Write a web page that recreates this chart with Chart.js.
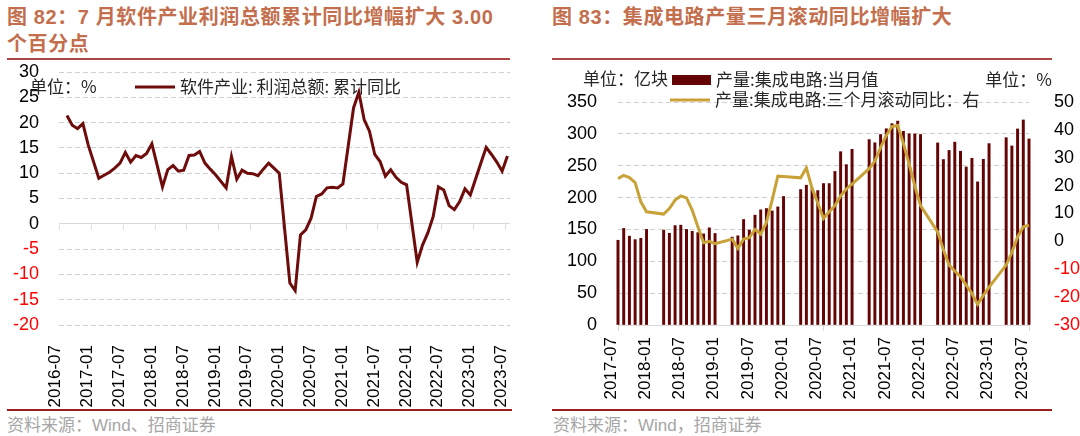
<!DOCTYPE html>
<html lang="zh-CN">
<head>
<meta charset="utf-8">
<title>软件产业利润 / 集成电路产量</title>
<script src="https://cdn.jsdelivr.net/npm/chart.js@4.4.1/dist/chart.umd.min.js"></script>
<style>
  html, body { margin: 0; padding: 0; background: #fff; }
  #page { position: relative; width: 1080px; height: 436px; overflow: hidden;
          font-family: "Liberation Sans", "Noto Sans CJK SC", sans-serif; }
  .title { position: absolute; top: 4px; font-weight: bold; font-size: 20px; line-height: 27px;
           color: #c36f4e; letter-spacing: 0.6px; white-space: nowrap; }
  .rule { position: absolute; height: 2px; }
  .rule.top { top: 58px; background: #ab4744; }
  .rule.bottom { top: 409px; background: #981d1d; }
  .source { position: absolute; top: 415px; font-size: 17px; line-height: 22px; color: #a6a6a6; white-space: nowrap; }
  canvas { position: absolute; top: 62px; }
</style>
</head>
<body>
<div id="page">
  <div class="title" style="left:7px">图 82：7 月软件产业利润总额累计同比增幅扩大 3.00<br>个百分点</div>
  <div class="title" style="left:552px">图 83：集成电路产量三月滚动同比增幅扩大</div>
  <div class="rule top" style="left:7px; width:503px"></div>
  <div class="rule top" style="left:552px; width:500px"></div>
  <canvas id="left" width="540" height="346" style="left:0"></canvas>
  <canvas id="right" width="540" height="346" style="left:540px"></canvas>
  <div class="rule bottom" style="left:7px; width:505px"></div>
  <div class="rule bottom" style="left:552px; width:500px"></div>
  <div class="source" style="left:7px">资料来源：Wind、招商证券</div>
  <div class="source" style="left:553px">资料来源：Wind，招商证券</div>
</div>
<script>
// month labels, YYYY-MM
function monthRange(from, to) {
    const out = [];
    let [y, m] = from.split('-').map(Number);
    const [ty, tm] = to.split('-').map(Number);
    while (y < ty || (y === ty && m <= tm)) {
        out.push(y + '-' + String(m).padStart(2, '0'));
        m++;
        if (m > 12) { m = 1; y++; }
    }
    return out;
}

// left: 软件产业 利润总额 累计同比 (%), Jan has no figure
const profitMonths = monthRange('2016-07', '2023-07');
const profitYoY = [
    null, 21.4, 19.5, 18.8, 19.8, 15.6,
    null, 9.0, 9.6, 10.2, 11.0, 12.0, 14.1, 12.2, 13.5, 13.1, 13.9, 15.8,
    null, 7.3, 10.7, 11.5, 10.4, 10.6, 13.5, 13.6, 14.3, 12.0, 10.8, 9.7,
    null, 7.1, 13.3, 8.8, 10.6, 10.0, 9.9, 9.5, 10.8, 12.0, 11.0, 10.0,
    null, -11.7, -13.2, -2.2, -1.2, 1.1, 5.4, 5.9, 7.1, 7.2, 7.1, 7.9,
    null, 22.9, 26.0, 20.6, 18.3, 13.7, 12.3, 9.4, 10.7, 9.2, 8.2, 7.7,
    null, -7.6, -4.2, -1.8, 1.4, 7.3, 6.7, 3.6, 2.8, 4.4, 6.9, 5.7,
    null, 12.0, 15.1, 13.7, 12.2, 10.4, 13.4
];
const profitTicks = [-20, 30, 5];   // min, max, step

// right: 集成电路产量 当月值 (亿块) and 三个月滚动同比 (%), Jan/Feb have no figure
const icMonths = monthRange('2017-07', '2023-07');
const icOutput = [
    133, 151.5, 139.5, 134, 136, 150,
    null, null, 149, 144, 156, 156.7, 150, 147, 145, 143, 152.5, 143.7,
    null, null, 138, 140, 165.6, 149, 172.4, 180.8, 182.8, 179, 185.4, 201.7,
    null, null, 212.6, 219.4, 214, 211, 222, 222, 241, 272, 251.7, 275.8,
    null, null, 291, 286, 299, 308, 316, 320, 304, 300, 300, 299,
    null, null, 285.8, 259.7, 274, 287, 272.7, 248, 261.7, 224.6, 260, 284.7,
    null, null, 294, 281, 307.7, 321.8, 292
];
const icRollingYoY = [
    22.5, 23.7, 22.9, 21.1, 14.2, 10.6,
    null, null, 9.8, 11.8, 14.8, 16.3, 15.6, 11.2, 5.2, -0.5, 0.0, -0.8,
    null, null, 0.8, -2.5, 0.8, 1.3, 4.3, 2.6, 6.8, 14.8, 23.4, 23.3,
    null, null, 22.8, 26.4, 19.0, 13.8, 8.2, 10.6, 12.8, 16.3, 18.8, 20.5,
    null, null, 26.1, 28.8, 33.6, 38.0, 41.2, 41.6, 35.1, 27.8, 19.8, 12.8,
    null, null, 3.4, -3.0, -8.5, -10.6, -12.7, -15.7, -18.7, -22.6, -19.4, -16.4,
    null, null, -8.5, -4.0, 1.6, 5.2, 5.8
];
const icLeftTicks = [0, 350, 50];
const icRightTicks = [-30, 50, 10];

const NUM_FONT = 'Liberation Sans';
const CJK_FONT = '"Noto Sans CJK SC", "Liberation Sans"';
const GRID = '#d0d0d0';
const AXIS = '#d9d9d9';
const negRed = ctx => ctx.tick.value < 0 ? '#ff0000' : '#000000';
const halfYear = (labels) => (v, i) => i % 6 === 0 ? labels[i] : null;

// legend drawn inside the plot, like the original
function panelLegend(items) {
    return {
        id: 'panelLegend',
        afterDraw(chart) {
            const c = chart.ctx;
            c.save();
            c.font = '17px ' + CJK_FONT;
            c.textBaseline = 'middle';
            items.forEach(it => {
                c.fillStyle = '#262626';
                c.textAlign = it.align || 'left';
                if (it.dataset === undefined) {
                    c.fillText(it.text, it.x, it.y);
                    return;
                }
                const ds = chart.data.datasets[it.dataset];
                if (it.swatch === 'bar') {
                    c.fillStyle = ds.backgroundColor;
                    c.fillRect(it.x, it.y - 5, it.w, 10);
                } else {
                    c.strokeStyle = ds.borderColor;
                    c.lineWidth = 3;
                    c.beginPath();
                    c.moveTo(it.x, it.y);
                    c.lineTo(it.x + it.w, it.y);
                    c.stroke();
                }
                c.fillStyle = '#262626';
                c.fillText(ds.label, it.x + it.w + 5, it.y);
            });
            c.restore();
        }
    };
}

// small tick marks hanging under the zero line of the left chart
const zeroTicks = {
    id: 'zeroTicks',
    beforeDatasetsDraw(chart) {
        const x = chart.scales.x, y = chart.scales.y;
        const y0 = Math.round(y.getPixelForValue(0)) + 0.5;
        const half = (x.getPixelForValue(1) - x.getPixelForValue(0)) / 2;
        const c = chart.ctx;
        c.save();
        c.strokeStyle = AXIS;
        c.lineWidth = 1;
        c.beginPath();
        profitMonths.forEach((m, i) => {
            if (i % 6) return;
            const px = Math.round(x.getPixelForValue(i) - half) + 0.5;
            c.moveTo(px, y0);
            c.lineTo(px, y0 + 5);
        });
        c.stroke();
        c.restore();
    }
};

new Chart(document.getElementById('left'), {
    type: 'line',
    data: {
        labels: profitMonths,
        datasets: [{
            label: '软件产业: 利润总额: 累计同比',
            data: profitYoY,
            borderColor: '#6e0b0b',
            borderWidth: 3,
            pointRadius: 0,
            tension: 0,
            spanGaps: true
        }]
    },
    options: {
        responsive: false,
        animation: false,
        layout: { padding: { top: 10, right: 28, left: 0, bottom: 0 } },
        plugins: { legend: { display: false }, tooltip: { enabled: false } },
        scales: {
            x: {
                offset: true,
                grid: { display: false },
                border: { display: false },
                ticks: {
                    autoSkip: false, maxRotation: 90, minRotation: 90,
                    padding: 12, labelOffset: -6,
                    color: '#000', font: { family: NUM_FONT, size: 17 },
                    callback: halfYear(profitMonths)
                },
                afterFit: s => { s.height = 83; }
            },
            y: {
                min: profitTicks[0], max: profitTicks[1],
                ticks: { stepSize: profitTicks[2], autoSkip: false, padding: 20, color: negRed,
                         font: { family: NUM_FONT, size: 18 } },
                grid: { drawTicks: false, color: ctx => ctx.tick.value === 0 ? AXIS : GRID },
                border: { display: false, dash: ctx => ctx.tick.value === 0 ? [] : [5, 3] },
                // tick padding would otherwise push the plot top down
                afterFit: s => { s.width = 59; s.paddingTop = 0; s.paddingBottom = 0; }
            }
        }
    },
    plugins: [zeroTicks, panelLegend([
        { text: '单位：%', x: 30, y: 25 },
        { dataset: 0, swatch: 'line', x: 135, y: 25, w: 40 }
    ])]
});

new Chart(document.getElementById('right'), {
    type: 'bar',
    data: {
        labels: icMonths,
        datasets: [{
            type: 'line',
            label: '产量:集成电路:三个月滚动同比：右',
            data: icRollingYoY,
            yAxisID: 'y1',
            borderColor: '#c8a237',
            borderWidth: 3,
            pointRadius: 0,
            tension: 0,
            spanGaps: true,
            order: 0
        }, {
            type: 'bar',
            label: '产量:集成电路:当月值',
            data: icOutput,
            yAxisID: 'y',
            backgroundColor: '#650404',
            barThickness: 2.3,
            clip: false,
            order: 1
        }]
    },
    options: {
        responsive: false,
        animation: false,
        layout: { padding: { top: 40, right: 0, left: 0, bottom: 0 } },
        plugins: { legend: { display: false }, tooltip: { enabled: false } },
        scales: {
            x: {
                offset: false,
                grid: {
                    offset: false, drawOnChartArea: false, drawTicks: true, tickLength: 6,
                    color: ctx => ctx.index % 6 === 0 ? AXIS : 'rgba(0,0,0,0)'
                },
                border: { display: true, color: AXIS, width: 1 },
                ticks: {
                    autoSkip: false, maxRotation: 90, minRotation: 90,
                    padding: 6, labelOffset: -7,
                    color: '#000', font: { family: NUM_FONT, size: 17 },
                    callback: halfYear(icMonths)
                },
                afterFit: s => { s.height = 83; }
            },
            y: {
                position: 'left',
                min: icLeftTicks[0], max: icLeftTicks[1],
                ticks: { stepSize: icLeftTicks[2], autoSkip: false, padding: 21, color: '#000',
                         font: { family: NUM_FONT, size: 18 } },
                grid: { drawTicks: false, color: ctx => ctx.tick.value === 0 ? 'rgba(0,0,0,0)' : GRID },
                border: { display: false, dash: [5, 3] },
                afterFit: s => { s.width = 78; s.paddingTop = 0; s.paddingBottom = 0; }
            },
            y1: {
                position: 'right',
                min: icRightTicks[0], max: icRightTicks[1],
                ticks: { stepSize: icRightTicks[2], autoSkip: false, padding: 17, color: negRed,
                         font: { family: NUM_FONT, size: 18 } },
                grid: { display: false },
                border: { display: false },
                afterFit: s => { s.width = 51; s.paddingTop = 0; s.paddingBottom = 0; }
            }
        }
    },
    plugins: [panelLegend([
        { text: '单位：亿块', x: 43, y: 17 },
        { dataset: 1, swatch: 'bar', x: 132, y: 18, w: 39 },
        { dataset: 0, swatch: 'line', x: 130, y: 38, w: 40 },
        { text: '单位：%', x: 512, y: 18, align: 'right' }
    ])]
});
</script>
</body>
</html>
